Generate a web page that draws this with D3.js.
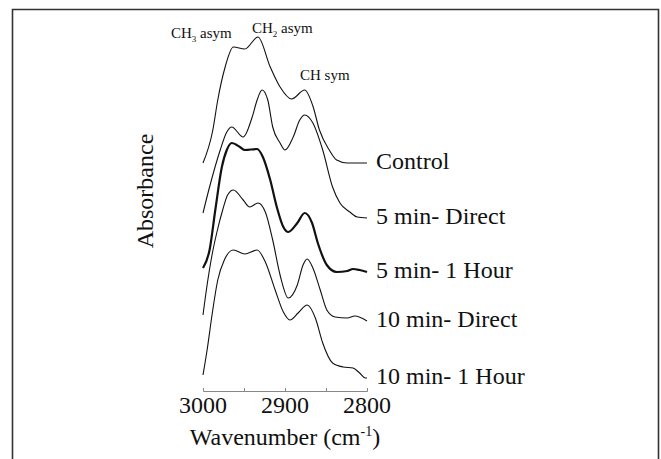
<!DOCTYPE html>
<html>
<head>
<meta charset="utf-8">
<script src="https://cdn.jsdelivr.net/npm/d3@7"></script>
<style>
  body { margin: 0; background: #fff; }
  text { font-family: "Liberation Serif", "Times New Roman", serif; fill: #111; }
</style>
</head>
<body>
<div id="chart"></div>
<script>
// wavenumber (cm-1) and absorbance (a.u., offset stacked)
var control = [[3000,2.28],[2988,2.61],[2982,2.91],[2973,3.24],[2963,3.44],[2949,3.42],[2933,3.54],[2918,3.24],[2906,3.04],[2892,2.92],[2876,3.01],[2866,2.85],[2858,2.61],[2846,2.41],[2837,2.31],[2824,2.28],[2812,2.28],[2800,2.28]]
var min5Direct = [[3000,1.78],[2992,2.04],[2979,2.41],[2971,2.59],[2965,2.64],[2951,2.54],[2940,2.74],[2934,2.91],[2928,3.01],[2921,2.91],[2915,2.64],[2906,2.48],[2900,2.41],[2890,2.54],[2882,2.71],[2876,2.76],[2866,2.68],[2854,2.41],[2842,2.04],[2833,1.88],[2821,1.79],[2812,1.74],[2800,1.73]]
var min5Hour = [[3000,1.23],[2992,1.41],[2985,1.81],[2977,2.24],[2971,2.41],[2965,2.48],[2955,2.44],[2949,2.41],[2934,2.42],[2927,2.34],[2918,2.11],[2910,1.84],[2902,1.64],[2896,1.59],[2885,1.68],[2876,1.78],[2867,1.68],[2860,1.48],[2849,1.26],[2837,1.19],[2824,1.20],[2817,1.22],[2809,1.21],[2800,1.19]]
var min10Direct = [[3000,0.76],[2995,1.06],[2989,1.36],[2983,1.59],[2976,1.81],[2970,1.96],[2963,2.01],[2951,1.91],[2943,1.84],[2933,1.88],[2924,1.79],[2915,1.51],[2906,1.16],[2896,0.93],[2885,1.06],[2878,1.26],[2873,1.32],[2866,1.23],[2857,1.01],[2849,0.81],[2839,0.74],[2824,0.73],[2815,0.75],[2800,0.70]]
var min10Hour = [[3000,0.16],[2995,0.41],[2989,0.76],[2982,1.11],[2974,1.31],[2963,1.41],[2949,1.37],[2934,1.41],[2924,1.29],[2912,1.01],[2902,0.79],[2894,0.71],[2884,0.78],[2873,0.86],[2863,0.73],[2854,0.48],[2842,0.28],[2829,0.24],[2817,0.23],[2809,0.18],[2802,0.13],[2800,0.13]]

var seriesNames = ["Control","5 min- Direct","5 min- 1 Hour","10 min- Direct","10 min- 1 Hour"]
var seriesData = [control, min5Direct, min5Hour, min10Direct, min10Hour]
var xTicks = [3000, 2950, 2900, 2850, 2800]
var xTickLabels = [3000, 2900, 2800]

var width = 661, height = 459

var svg = d3.select("#chart").append("svg")
  .attr("width", width)
  .attr("height", height)

// frame round the figure
svg.append("path")
  .attr("d", "M12.5," + height + "V9.5H658.5V" + height)
  .attr("fill", "none")
  .attr("stroke", "#333")
  .attr("stroke-width", 1.6)

var x = d3.scaleLinear().domain([3000, 2800]).range([203, 367])
var y = d3.scaleLinear().domain([0, 3.8]).range([391, 11])

// x axis
var xAxis = svg.append("g")
  .attr("transform", "translate(0,391)")
  .call(d3.axisTop(x).tickValues(xTicks).tickSize(3).tickFormat(""))
xAxis.select(".domain").attr("stroke", "#888")
xAxis.selectAll(".tick line").attr("stroke", "#888")

svg.selectAll(".tlab")
  .data(xTickLabels)
  .enter().append("text")
  .attr("class", "tlab")
  .attr("x", function(d){ return x(d) })
  .attr("y", 413)
  .attr("text-anchor", "middle")
  .style("font-size", "24px")
  .text(function(d){ return d })

var xt = svg.append("text")
  .attr("x", 285)
  .attr("y", 445)
  .attr("text-anchor", "middle")
  .style("font-size", "24px")
xt.append("tspan").text("Wavenumber (cm")
xt.append("tspan").attr("dy", -9).style("font-size", "14px").text("-1")
xt.append("tspan").attr("dy", 9).text(")")

svg.append("text")
  .attr("transform", "translate(153,191) rotate(-90)")
  .attr("text-anchor", "middle")
  .style("font-size", "24px")
  .text("Absorbance")

var line = d3.line()
  .x(function(d){ return x(d[0]) })
  .y(function(d){ return y(d[1]) })
  .curve(d3.curveMonotoneX)

svg.selectAll(".spec")
  .data(seriesData)
  .enter().append("path")
  .attr("class", "spec")
  .attr("fill", "none")
  .attr("stroke", "#111")
  .attr("stroke-width", function(d,i){ return i == 2 ? 2.2 : 1.1 })
  .attr("d", line)

// series names at the right end of each curve
svg.selectAll(".slab")
  .data(seriesData)
  .enter().append("text")
  .attr("class", "slab")
  .attr("x", 376)
  .attr("y", function(d){ return y(d[d.length-1][1]) + 6 })
  .style("font-size", "24px")
  .text(function(d,i){ return seriesNames[i] })

// band annotations
function band(px, py, main, sub, rest){
  var t = svg.append("text").attr("x", px).attr("y", py).style("font-size", "15px")
  t.append("tspan").text(main)
  if (sub) t.append("tspan").attr("dy", 4).style("font-size", "9px").text(sub)
  t.append("tspan").attr("dy", sub ? -4 : 0).text(rest)
}
band(171, 38, "CH", "3", " asym")
band(252, 33, "CH", "2", " asym")
band(300, 80, "CH", "", " sym")
</script>
</body>
</html>
